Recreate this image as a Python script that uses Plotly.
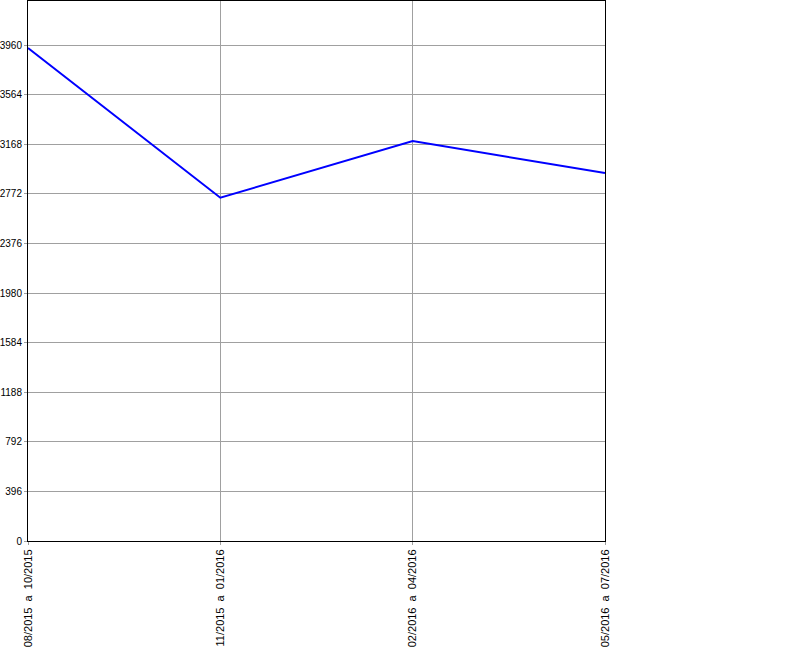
import plotly.graph_objects as go

periods = ["08/2015\u00a0\u00a0a\u00a0\u00a010/2015", "11/2015\u00a0\u00a0a\u00a0\u00a001/2016",
           "02/2016\u00a0\u00a0a\u00a0\u00a004/2016", "05/2016\u00a0\u00a0a\u00a0\u00a007/2016"]
values = [3936, 2741, 3194, 2938]
y_ticks = [0, 396, 792, 1188, 1584, 1980, 2376, 2772, 3168, 3564, 3960]

xpos = list(range(len(periods)))

fig = go.Figure()
fig.add_trace(go.Scatter(x=xpos, y=values, mode="lines",
                         line=dict(color="#0000ff", width=2), hoverinfo="skip"))

fig.update_layout(
    width=800, height=650,
    margin=dict(l=28, r=195, t=1, b=109),
    paper_bgcolor="white", plot_bgcolor="white",
    showlegend=False,
    font=dict(family="Liberation Sans", size=11, color="black"),
)
fig.update_xaxes(
    range=[0, len(periods) - 1], tickvals=xpos, ticktext=periods, tickangle=-90,
    showgrid=True, gridcolor="#a0a0a0", gridwidth=1,
    showline=True, linecolor="black", linewidth=1, mirror=True,
    ticks="outside", ticklen=3, tickcolor="#a0a0a0", zeroline=False,
    tickfont=dict(size=11), automargin=False,
)
fig.update_yaxes(
    range=[0, 4312], tickvals=y_ticks, ticktext=[str(v) for v in y_ticks],
    showgrid=True, gridcolor="#a0a0a0", gridwidth=1,
    showline=True, linecolor="black", linewidth=1, mirror=True,
    ticks="outside", ticklen=3, tickcolor="#a0a0a0", zeroline=False,
    tickfont=dict(size=10), automargin=False, ticklabelstandoff=0,
)
fig.write_html("out.html", config={"displayModeBar": False},
               post_script="document.body.style.margin='0';")
